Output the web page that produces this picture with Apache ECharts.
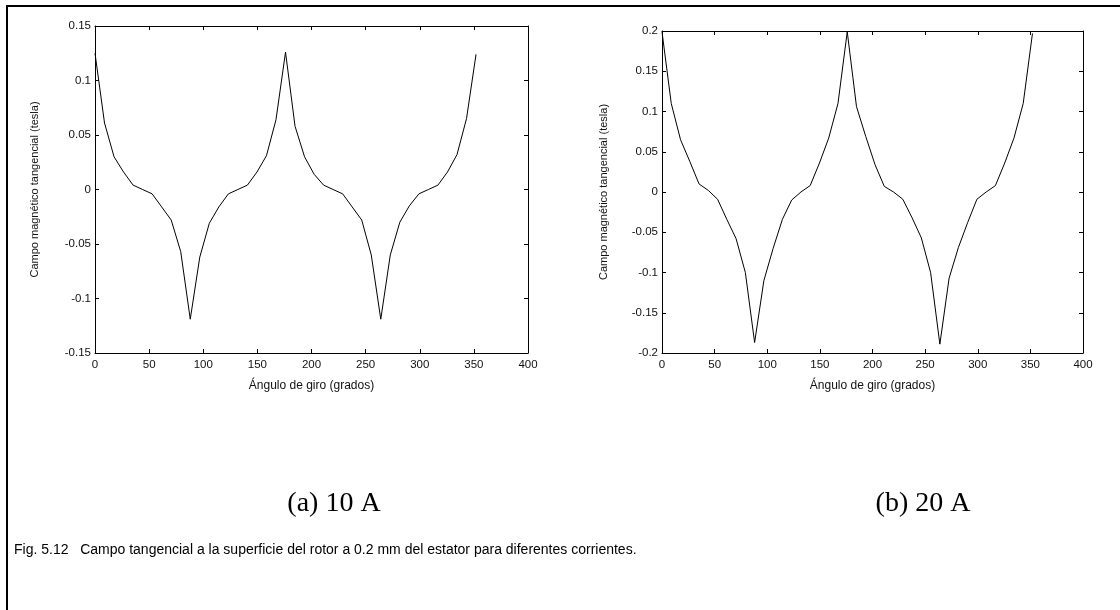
<!DOCTYPE html>
<html>
<head>
<meta charset="utf-8">
<script src="https://cdn.jsdelivr.net/npm/echarts@6/dist/echarts.min.js"></script>
<style>
  html, body { margin: 0; padding: 0; background: #fff; }
  #chart { width: 1120px; height: 610px; }
</style>
</head>
<body>
<div id="chart"></div>
<script>
// ángulos (grados)
const angles = [0, 8.8, 17.6, 26.4, 35.2, 44, 52.8, 61.6, 70.4, 79.2, 88, 96.8, 105.6, 114.4, 123.2, 132, 140.8, 149.6, 158.4, 167.2,
  176, 184.8, 193.6, 202.4, 211.2, 220, 228.8, 237.6, 246.4, 255.2, 264, 272.8, 281.6, 290.4, 299.2, 308, 316.8, 325.6, 334.4, 343.2, 352]

// (a) 10 A
const campo10 = [0.125, 0.061, 0.030, 0.016, 0.004, 0.000, -0.004, -0.016, -0.028, -0.057, -0.119, -0.062, -0.031, -0.016, -0.004, 0.000, 0.004, 0.016, 0.031, 0.064,
  0.126, 0.058, 0.030, 0.014, 0.004, 0.000, -0.004, -0.016, -0.028, -0.060, -0.119, -0.060, -0.030, -0.015, -0.004, 0.000, 0.004, 0.016, 0.032, 0.065, 0.124]

// (b) 20 A
const campo20 = [0.199, 0.110, 0.065, 0.038, 0.010, 0.002, -0.009, -0.034, -0.058, -0.100, -0.187, -0.110, -0.070, -0.034, -0.010, 0.000, 0.008, 0.036, 0.067, 0.110,
  0.199, 0.106, 0.069, 0.034, 0.007, 0.000, -0.009, -0.032, -0.057, -0.100, -0.189, -0.107, -0.069, -0.038, -0.009, 0.000, 0.008, 0.036, 0.067, 0.110, 0.197]

const xName = 'Ángulo de giro (grados)'
const yName = 'Campo magnético tangencial (tesla)'

const chart = echarts.init(document.getElementById('chart'))

const font = 'Liberation Sans, Arial, sans-serif'
const line = { show: true, onZero: false, lineStyle: { color: '#000', width: 1 } }
const tick = { show: true, inside: true, length: 4, lineStyle: { color: '#000' } }

function xAxes(grid) {
  const base = { gridIndex: grid, type: 'value', min: 0, max: 400, interval: 50, splitLine: { show: false }, axisLine: line, axisTick: tick }
  return [
    Object.assign({}, base, {
      position: 'bottom',
      axisLabel: { color: '#111', fontSize: 11.5, fontFamily: font, margin: 6 },
      name: xName, nameLocation: 'middle', nameGap: 27,
      nameTextStyle: { color: '#111', fontSize: 12, fontFamily: font }
    }),
    Object.assign({}, base, { position: 'top', axisLabel: { show: false } })
  ]
}

function yAxes(grid, lim, gap) {
  const base = { gridIndex: grid, type: 'value', min: -lim, max: lim, interval: 0.05, splitLine: { show: false }, axisLine: line, axisTick: tick }
  return [
    Object.assign({}, base, {
      position: 'left',
      axisLabel: { color: '#111', fontSize: 11.5, fontFamily: font, margin: 4 },
      name: yName, nameLocation: 'middle', nameGap: gap, nameRotate: 90,
      nameTextStyle: { color: '#111', fontSize: 11, fontFamily: font }
    }),
    Object.assign({}, base, { position: 'right', axisLabel: { show: false } })
  ]
}

function serie(idx, values) {
  return {
    type: 'line',
    xAxisIndex: idx * 2,
    yAxisIndex: idx * 2,
    data: angles.map((a, i) => [a, values[i]]),
    showSymbol: false,
    lineStyle: { color: '#000', width: 1 },
    animation: false
  }
}

chart.setOption({
  backgroundColor: '#fff',
  animation: false,
  grid: [
    { left: 95, top: 26, width: 433, height: 327 },
    { left: 662, top: 31, width: 421, height: 322 }
  ],
  xAxis: xAxes(0).concat(xAxes(1)),
  yAxis: yAxes(0, 0.15, 55).concat(yAxes(1, 0.2, 53)),
  series: [serie(0, campo10), serie(1, campo20)],
  title: [
    { text: '(a) 10 A', left: 329, top: 485, textAlign: 'center',
      textStyle: { fontFamily: 'Liberation Serif, Times New Roman, serif', fontWeight: 'normal', fontSize: 28, color: '#000' } },
    { text: '(b) 20 A', left: 918, top: 485, textAlign: 'center',
      textStyle: { fontFamily: 'Liberation Serif, Times New Roman, serif', fontWeight: 'normal', fontSize: 28, color: '#000' } },
    { text: 'Fig. 5.12   Campo tangencial a la superficie del rotor a 0.2 mm del estator para diferentes corrientes.', left: 9, top: 538,
      textStyle: { fontFamily: font, fontWeight: 'normal', fontSize: 14, color: '#000' } }
  ],
  graphic: [
    { type: 'line', shape: { x1: 6, y1: 6, x2: 1120, y2: 6 }, style: { stroke: '#000', lineWidth: 2 } },
    { type: 'line', shape: { x1: 7, y1: 5, x2: 7, y2: 610 }, style: { stroke: '#000', lineWidth: 2 } }
  ]
})
</script>
</body>
</html>
